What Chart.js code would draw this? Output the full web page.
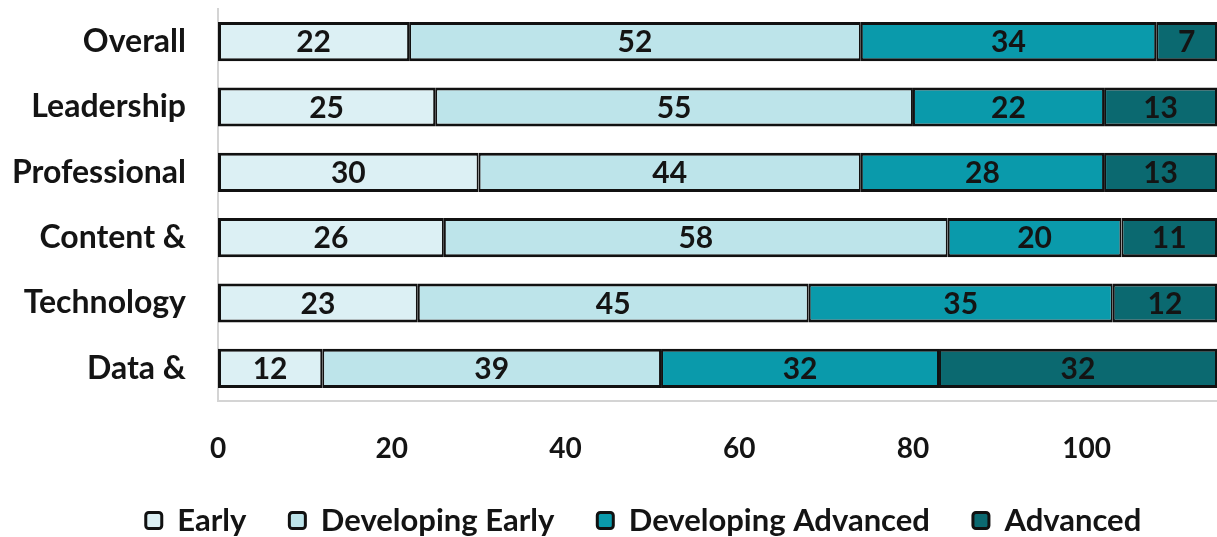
<!DOCTYPE html>
<html><head><meta charset="utf-8">
<script src="https://cdn.jsdelivr.net/npm/chart.js@4.4.1/dist/chart.umd.min.js"></script>
<style>html,body{margin:0;padding:0;background:#fff;}#wrap{width:1217px;height:537px;position:relative;}</style>
</head><body><div id="wrap"><canvas id="c"></canvas></div>
<script>
const categories = ["Overall", "Leadership", "Professional", "Content &", "Technology", "Data &"];
const seriesNames = ["Early", "Developing Early", "Developing Advanced", "Advanced"];
const early = [22, 25, 30, 26, 23, 12];
const developingEarly = [52, 55, 44, 58, 45, 39];
const developingAdvanced = [34, 22, 28, 20, 35, 32];
const advanced = [7, 13, 13, 11, 12, 32];
const xTicks = [0, 20, 40, 60, 80, 100];
const xMax = 115;
const colors = ["#dcf0f4", "#bde4ea", "#0a9aab", "#0b6970"];

const FONT = "Lato";
const TXT = "#141414";

const labelPlugin = {
  id: "barLabels",
  afterDatasetsDraw(chart) {
    const ctx = chart.ctx, a = chart.chartArea;
    ctx.save();
    ctx.beginPath(); ctx.rect(a.left, a.top, a.right - a.left, a.bottom - a.top); ctx.clip();
    ctx.font = "bold 30px " + FONT;
    ctx.fillStyle = TXT; ctx.textAlign = "center"; ctx.textBaseline = "middle";
    chart.data.datasets.forEach((ds, i) => {
      const meta = chart.getDatasetMeta(i);
      meta.data.forEach((el, j) => {
        const p = el.getProps(["x", "y", "base"], true);
        ctx.fillText(String(ds.data[j]), (p.x + p.base) / 2, p.y + 1);
      });
    });
    ctx.restore();
  }
};
const legendPlace = {
  id: "legendPlace",
  afterLayout(chart) {
    const lg = chart.legend; if (!lg) return;
    const dx = 35;
    lg.left += dx; lg.right += dx;
    lg.top = 462; lg.bottom = lg.top + lg.height;
  }
};
function noPad(s) { s.paddingTop = 0; s.paddingBottom = 0; s.paddingLeft = 0; s.paddingRight = 0; }

new Chart(document.getElementById("c"), {
  type: "bar",
  data: {
    labels: categories,
    datasets: [early, developingEarly, developingAdvanced, advanced].map((d, i) => ({
      label: seriesNames[i],
      data: d,
      backgroundColor: colors[i],
      borderColor: "#111",
      borderWidth: {top: 3, bottom: 3, left: i === 0 ? 3 : 2, right: 2},
      borderSkipped: false,
      barPercentage: 0.6,
      categoryPercentage: 1.0
    }))
  },
  options: {
    indexAxis: "y",
    responsive: true,
    maintainAspectRatio: false,
    animation: false,
    layout: {padding: {top: 9, left: 0, right: 0, bottom: -18}},
    scales: {
      x: {
        stacked: true, min: 0, max: xMax,
        afterBuildTicks(s) { s.ticks = xTicks.map(v => ({value: v})); },
        afterFit(s) { s.height = 70; noPad(s); },
        grid: {display: false, drawTicks: false},
        border: {display: true, color: "#d4d4d4", width: 2},
        ticks: {padding: 31, color: TXT, font: {family: FONT, size: 28, weight: "bold"}}
      },
      y: {
        stacked: true,
        afterFit(s) { s.width = 218; noPad(s); },
        grid: {display: false, drawTicks: false},
        border: {display: true, color: "#d4d4d4", width: 2},
        ticks: {padding: 32, color: TXT, font: {family: FONT, size: 32, weight: "bold"}}
      }
    },
    plugins: {
      tooltip: {enabled: false},
      legend: {
        position: "bottom",
        labels: {
          color: TXT,
          boxWidth: 16, boxHeight: 16,
          padding: 43,
          useBorderRadius: true,
          font: {family: FONT, size: 31, weight: "bold"},
          generateLabels(chart) {
            return chart.data.datasets.map((ds, i) => ({
              text: ds.label, fillStyle: ds.backgroundColor, strokeStyle: "#111",
              lineWidth: 3, borderRadius: 3, fontColor: TXT, datasetIndex: i, hidden: false
            }));
          }
        }
      }
    }
  },
  plugins: [labelPlugin, legendPlace]
});
</script></body></html>
